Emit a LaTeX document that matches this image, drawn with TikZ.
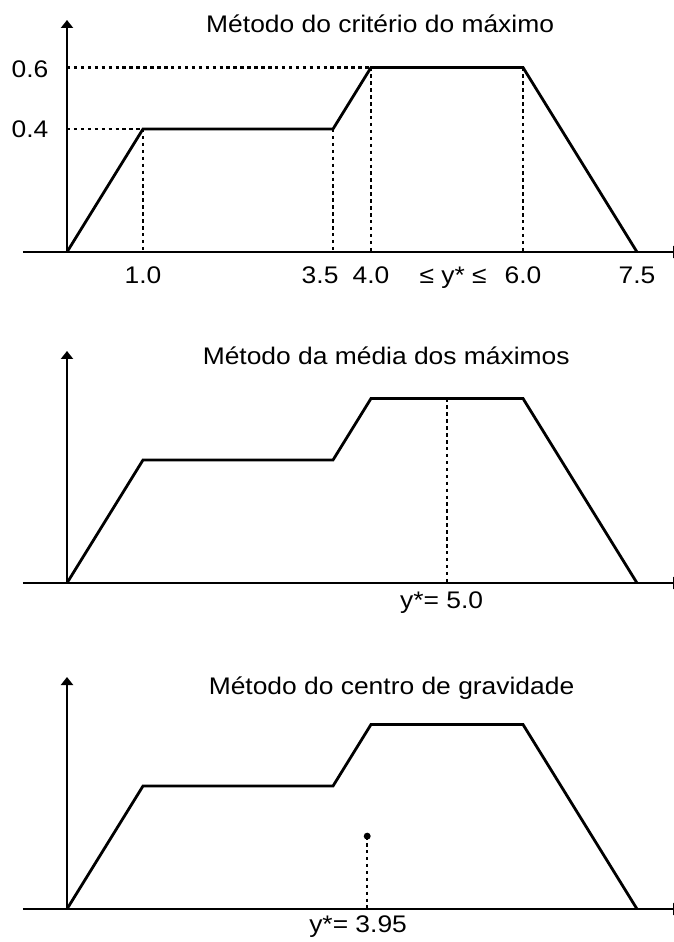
\documentclass[tikz,border=0pt]{standalone}
\usepackage{fontspec}
\setmainfont{Liberation Sans}[FakeStretch=1.1]
\usetikzlibrary{arrows.meta}
\tikzset{
  axisline/.style={line width=1.8pt, -{Triangle[width=9pt,length=6pt]}},
  mfcurve/.style={line width=2.1pt, line join=miter},
  guide/.style={line width=1.6pt, dash pattern=on 2.6pt off 2.6pt},
  lbl/.style={font=\fontsize{18}{22}\selectfont, inner sep=0pt, anchor=base},
}
\begin{document}
\begin{tikzpicture}[x=57pt, y=230.625pt]

  \useasboundingbox (-0.8816,-2.2439) rectangle (7.9868,0.8195);

  %% ── Axes and membership curve, same in all three panels ──
  \foreach \py in {0, -1.0764, -2.1366}{
    \begin{scope}[shift={(0,\py)}]
      \draw[axisline] (-0.579,0) -- (8.08,0);
      \draw[axisline] (0,0) -- (0,0.7545);
      \draw[mfcurve] (0,0) -- (1,0.4) -- (3.5,0.4) -- (4,0.6) -- (6,0.6) -- (7.5,0);
    \end{scope}
  }

  %% ═══════════ TOP: critério do máximo ═══════════
  \node[lbl] (title1) at (4.12,0.715) {Método do critério do máximo};

  %% guide lines to the plateaus
  \draw[guide] (0,0.6) -- (4,0.6);
  \draw[guide] (0,0.4) -- (1,0.4);
  \foreach \gx/\gy in {1/0.4, 3.5/0.4, 4/0.6, 6/0.6}{
    \draw[guide] (\gx,\gy) -- (\gx,0);
  }

  %% membership values
  \node[lbl] (val06) at (-0.487,0.566) {0.6};
  \node[lbl] (val04) at (-0.487,0.371) {0.4};

  %% abscissa labels
  \node[lbl] (tick10) at (1,-0.101) {1.0};
  \node[lbl] (tick35) at (3.33,-0.101) {3.5};
  \node[lbl] (tick40) at (4,-0.101) {4.0};
  \node[lbl] (ystar1) at (5.08,-0.101) {≤ y* ≤};
  \node[lbl] (tick60) at (6,-0.101) {6.0};
  \node[lbl] (tick75) at (7.5,-0.101) {7.5};

  %% ═══════════ MIDDLE: média dos máximos ═══════════
  \begin{scope}[shift={(0,-1.0764)}]
    \node[lbl] (title2) at (4.2,0.709) {Método da média dos máximos};
    \draw[guide] (5,0.6) -- (5,0);
    \node[lbl] (ystar2) at (4.93,-0.084) {y*= 5.0};
  \end{scope}

  %% ═══════════ BOTTOM: centro de gravidade ═══════════
  \begin{scope}[shift={(0,-2.1366)}]
    \node[lbl] (title3) at (4.27,0.699) {Método do centro de gravidade};
    \coordinate (cog) at (3.95,0.237);
    \draw[guide] (cog) -- (3.95,0);
    \fill (cog) circle (2.6pt);
    \node[lbl] (ystar3) at (3.83,-0.078) {y*= 3.95};
  \end{scope}

\end{tikzpicture}
\end{document}
